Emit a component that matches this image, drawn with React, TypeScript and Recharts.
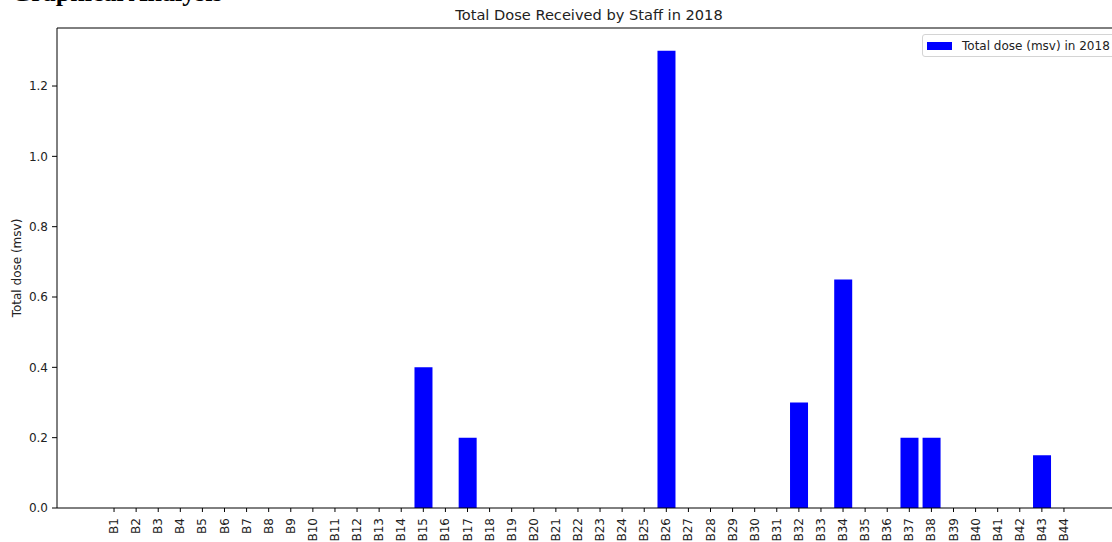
import { BarChart, Bar, XAxis, YAxis, Legend, ReferenceLine, Label } from "recharts";

// staff badge ids B1..B44 and their yearly dose
const staff = [
  "B1", "B2", "B3", "B4", "B5", "B6", "B7", "B8", "B9", "B10", "B11",
  "B12", "B13", "B14", "B15", "B16", "B17", "B18", "B19", "B20", "B21", "B22",
  "B23", "B24", "B25", "B26", "B27", "B28", "B29", "B30", "B31", "B32", "B33",
  "B34", "B35", "B36", "B37", "B38", "B39", "B40", "B41", "B42", "B43", "B44",
];
const dose2018 = [
  0, 0, 0, 0, 0, 0, 0, 0, 0, 0, 0,
  0, 0, 0, 0.4, 0, 0.2, 0, 0, 0, 0, 0,
  0, 0, 0, 1.3, 0, 0, 0, 0, 0, 0.3, 0,
  0.65, 0, 0, 0.2, 0.2, 0, 0, 0, 0, 0.15, 0,
];
const yTicks = [0, 0.2, 0.4, 0.6, 0.8, 1.0, 1.2];
const yMax = 1.365;

const data = staff.map((name, i) => ({ name, dose: dose2018[i] }));

const FONT = "'DejaVu Sans', sans-serif";

function StaffTick({ x, y, payload }: any) {
  return (
    <text
      transform={`translate(${x},${y}) rotate(-90)`}
      textAnchor="end"
      dominantBaseline="central"
      fontSize={12}
      fontFamily={FONT}
      fill="#222"
    >
      {payload.value}
    </text>
  );
}

function DoseLegend() {
  return (
    <div
      style={{
        display: "flex",
        alignItems: "center",
        width: 210,
        height: 21,
        border: "1px solid #d4d4d4",
        borderRadius: 3,
        background: "rgba(255,255,255,0.8)",
        fontFamily: FONT,
        fontSize: 12,
        color: "#222",
        whiteSpace: "nowrap",
      }}
    >
      <span style={{ display: "inline-block", width: 25, height: 8, background: "#0000ff", marginLeft: 4, marginRight: 10 }} />
      Total dose (msv) in 2018
    </div>
  );
}

function YTitle({ viewBox }: any) {
  const cx = viewBox.x + 17;
  const cy = viewBox.y + viewBox.height / 2;
  return (
    <text
      transform={`translate(${cx},${cy}) rotate(-90)`}
      textAnchor="middle"
      dominantBaseline="central"
      fontSize={12}
      fontFamily={FONT}
      fill="#222"
    >
      Total dose (msv)
    </text>
  );
}

export default function App() {
  return (
    <div style={{ position: "absolute", left: 0, top: 0, width: 1112, height: 542, overflow: "hidden", background: "#fff" }}>
      <div
        style={{
          position: "absolute",
          left: 11,
          top: -20,
          fontFamily: "'Liberation Serif', 'Times New Roman', serif",
          fontWeight: "bold",
          fontSize: 26,
          lineHeight: 1,
          whiteSpace: "nowrap",
          color: "#000",
        }}
      >
        Graphical Analysis
      </div>
      <div
        style={{
          position: "absolute",
          left: 57,
          width: 1064,
          top: 7,
          textAlign: "center",
          fontFamily: FONT,
          fontSize: 14.6,
          lineHeight: "16px",
          color: "#222",
        }}
      >
        Total Dose Received by Staff in 2018
      </div>
      <BarChart
        width={1125}
        height={542}
        data={data}
        margin={{ top: 28, right: 4, left: 0, bottom: 0 }}
        barCategoryGap="10%"
        style={{ position: "absolute", left: 0, top: 0 }}
      >
        <XAxis
          dataKey="name"
          interval={0}
          padding={{ left: 46, right: 46 }}
          height={34}
          tickSize={4}
          tickMargin={6}
          tick={<StaffTick />}
          stroke="#000"
          tickLine={{ stroke: "#000" }}
        />
        <YAxis
          type="number"
          domain={[0, yMax]}
          ticks={yTicks}
          width={57}
          tickSize={5}
          tickMargin={4}
          tickFormatter={(v: number) => v.toFixed(1)}
          tick={{ fontSize: 12, fontFamily: FONT, fill: "#222" }}
          stroke="#000"
          allowDataOverflow
        >
          <Label content={<YTitle />} />
        </YAxis>
        <ReferenceLine y={yMax} stroke="#000" strokeWidth={1} />
        <Legend
          layout="vertical"
          align="center"
          verticalAlign="middle"
          content={() => <DoseLegend />}
          wrapperStyle={{ left: 922, top: 34, width: 210 }}
        />
        <Bar dataKey="dose" fill="#0000ff" isAnimationActive={false} />
      </BarChart>
    </div>
  );
}
